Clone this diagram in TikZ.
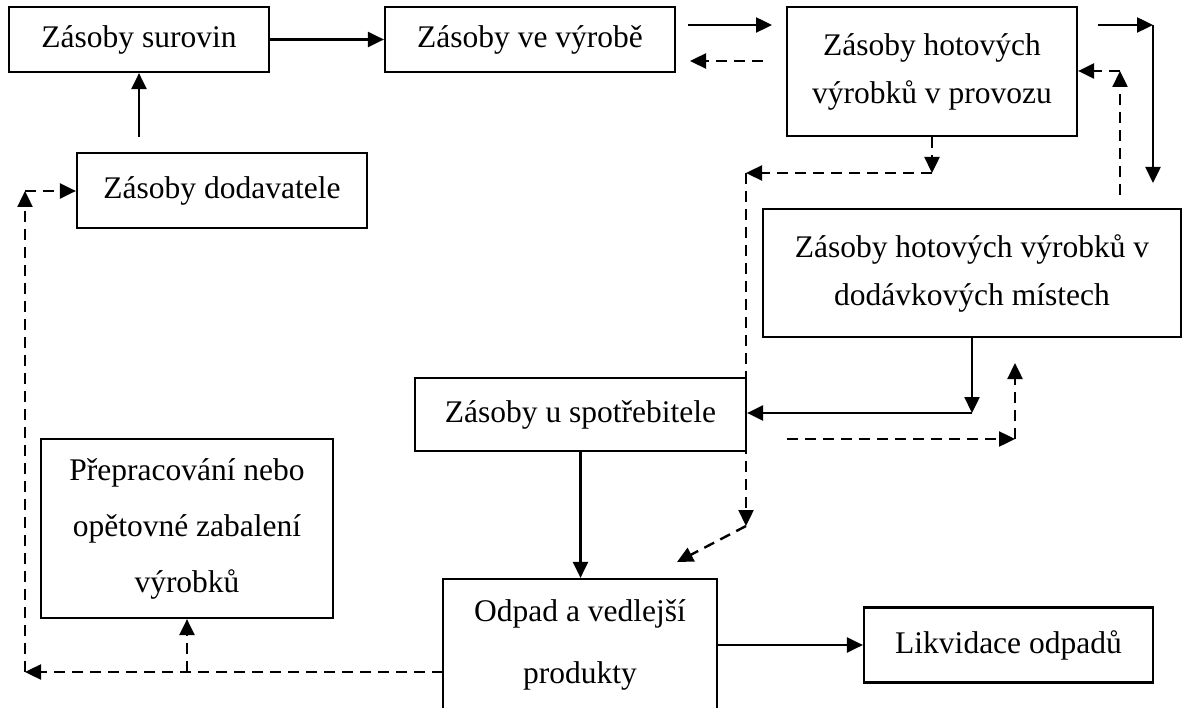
\documentclass[tikz,border=0pt]{standalone}
\usepackage{fontspec}
\setmainfont{Liberation Serif}
\usetikzlibrary{arrows.meta}
\begin{document}
\begin{tikzpicture}[x=1pt,y=-1pt,
  box/.style={draw, line width=2.2pt, rectangle, inner sep=0pt, align=center, font={\fontsize{31.5}{48}\selectfont}},
  conn/.style={line width=2.4pt, -{Triangle[length=16pt,width=15pt]}},
  dconn/.style={conn, dash pattern=on 11pt off 7pt}]
\useasboundingbox (0,0) rectangle (1182,708);

% boxes
\node[box, minimum width=260pt, minimum height=65pt] (surovin) at (139,39.5) {Zásoby surovin};
\node[box, minimum width=290pt, minimum height=65pt] (vyrobe) at (530,39.5) {Zásoby ve výrobě};
\node[box, minimum width=290pt, minimum height=129pt] (provoz) at (932,71.5) {Zásoby hotových\\výrobků v provozu};
\node[box, minimum width=290pt, minimum height=75pt] (dodavatel) at (222,190.5) {Zásoby dodavatele};
\node[box, minimum width=418pt, minimum height=128pt] (mista) at (972,273) {Zásoby hotových výrobků v\\dodávkových místech};
\node[box, minimum width=331pt, minimum height=73pt] (spotreb) at (580.5,414.5) {Zásoby u spotřebitele};
\node[box, minimum width=292pt, minimum height=179pt, font={\fontsize{31.5}{56}\selectfont}] (prepr) at (187,528.5) {Přepracování nebo\\opětovné zabalení\\výrobků};
\node[box, minimum width=274pt, minimum height=132pt, font={\fontsize{31.5}{62}\selectfont}] (odpad) at (580,645) {Odpad a vedlejší\\produkty};
\node[box, minimum width=289pt, minimum height=75pt] (likv) at (1008.5,645) {Likvidace odpadů};

% free points
\coordinate (c1) at (139,137);
\coordinate (vp1) at (688,25);
\coordinate (vp2) at (772,25);
\coordinate (pv1) at (763,61);
\coordinate (pv2) at (690,61);
\coordinate (pr1) at (1098,25);
\coordinate (pr2) at (1153,25);
\coordinate (pr3) at (1153,183);
\coordinate (dp1) at (1120,195);
\coordinate (dp2) at (1120,71);
\coordinate (ps2) at (932,173);
\coordinate (ps3) at (746,173);
\coordinate (ps4) at (746,526);
\coordinate (ps5) at (677,562);
\coordinate (ds1) at (972,413);
\coordinate (sd1) at (787,439);
\coordinate (sd2) at (1015,439);
\coordinate (sd3) at (1015,363);
\coordinate (op1) at (443,672);
\coordinate (op2) at (187,672);
\coordinate (op3) at (25,672);
\coordinate (op4) at (25,191);

% connectors
\draw[conn] (surovin.east) -- (vyrobe.west);
\draw[conn] (c1) -- (surovin.south);
\draw[conn] (vp1) -- (vp2);
\draw[dconn] (pv1) -- (pv2);
\draw[conn] (pr1) -- (pr2);
\draw[conn] (pr2) -- (pr3);
\draw[dconn] (dp1) -- (dp2);
\draw[dconn] (dp2) -- (provoz.east |- dp2);
\draw[dconn] (provoz.south) -- (ps2);
\draw[dconn] (ps2) -- (ps3);
\draw[dconn] (ps3) -- (ps4);
\draw[dconn] (ps4) -- (ps5);
\draw[conn] (mista.south) -- (ds1);
\draw[conn] (ds1) -- (spotreb.east |- ds1);
\draw[dconn] (sd1) -- (sd2);
\draw[dconn] (sd2) -- (sd3);
\draw[conn] (spotreb.south) -- (spotreb.south |- odpad.north);
\draw[dconn] (op1) -- (op3);
\draw[dconn] (op2) -- (prepr.south);
\draw[dconn] (op3) -- (op4);
\draw[dconn] (op4) -- (dodavatel.west |- op4);
\draw[conn] (odpad.east) -- (likv.west);
\end{tikzpicture}
\end{document}
